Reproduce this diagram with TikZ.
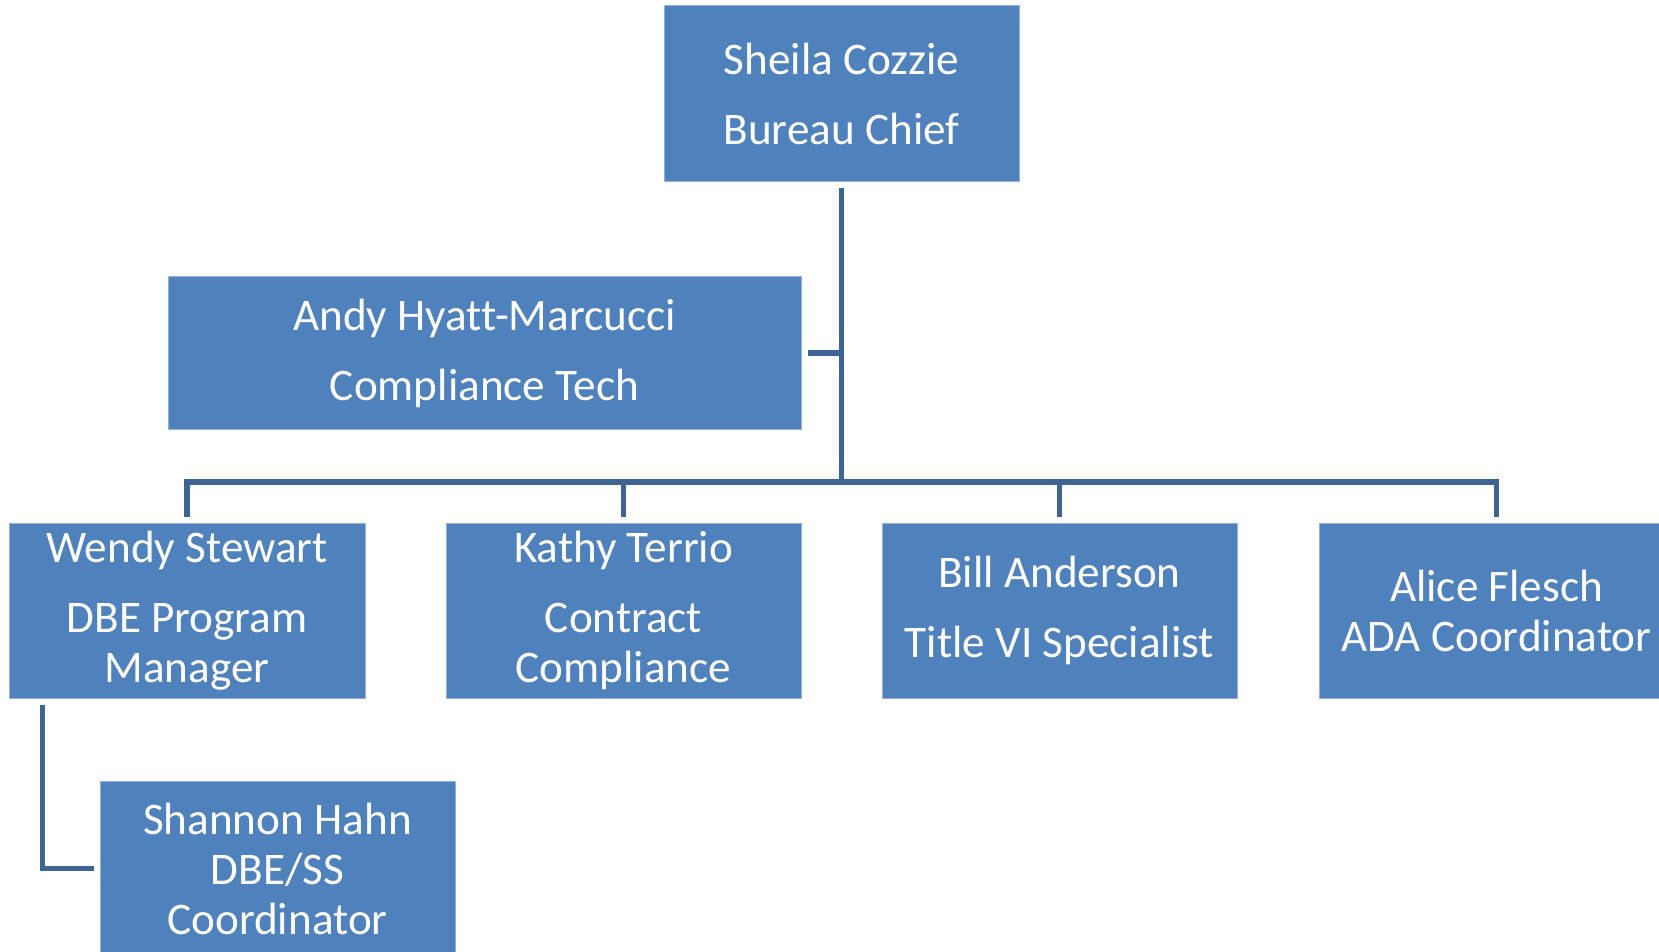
\documentclass[tikz,border=0pt]{standalone}
\usepackage{fontspec}
\setmainfont{Carlito}[Ligatures=CommonOff]
\definecolor{boxblue}{RGB}{79,129,189}
\definecolor{boxedge}{RGB}{149,179,215}
\definecolor{linkblue}{RGB}{62,100,148}
\tikzset{
  orgbox/.style={rectangle, fill=boxblue, draw=boxedge, line width=0.5pt,
    text=white, align=center, inner sep=0pt,
    font=\fontsize{22.6}{25}\selectfont},
  conn/.style={draw=linkblue, line width=2.8pt}
}
\begin{document}
\begin{tikzpicture}[x=0.5pt, y=-0.5pt]
\useasboundingbox[fill=white] (0,0) rectangle (1659,952);
\node[orgbox, minimum width=177.5pt, minimum height=88pt] (sheila) at (841.5,94) {Sheila Cozzie\\[10pt]Bureau Chief};
\node[orgbox, minimum width=316.5pt, minimum height=76pt] (andy) at (484.5,353) {Andy Hyatt-Marcucci\\[10pt]Compliance Tech};
\node[orgbox, minimum width=178pt, minimum height=87.5pt] (wendy) at (187,610.5) {Wendy Stewart\\[10pt]DBE Program\\Manager};
\node[orgbox, minimum width=177.5pt, minimum height=87.5pt] (kathy) at (623.5,610.5) {Kathy Terrio\\[10pt]Contract\\Compliance};
\node[orgbox, minimum width=177.5pt, minimum height=87.5pt] (bill) at (1059.5,610.5) {Bill Anderson\\[10pt]Title VI Specialist};
\node[orgbox, minimum width=177.5pt, minimum height=87.5pt] (alice) at (1496.5,610.5) {Alice Flesch\\ADA Coordinator};
\node[orgbox, minimum width=177.5pt, minimum height=87.5pt] (shannon) at (277.5,868.5) {Shannon Hahn\\DBE/SS\\Coordinator};
\coordinate (bar) at (841.5,482);
\draw[conn, shorten <=3pt] (sheila.south) -- (bar);
\draw[conn, shorten <=3pt] (andy.east) -- (andy.east -| bar);
\draw[conn, shorten >=3pt] (bar) -| (wendy.north);
\draw[conn, shorten >=3pt] (bar) -| (kathy.north);
\draw[conn, shorten >=3pt] (bar) -| (bill.north);
\draw[conn, shorten >=3pt] (bar) -| (alice.north);
\draw[conn, shorten <=3pt, shorten >=3pt] ([xshift=17pt]wendy.south west) |- (shannon.west);
\end{tikzpicture}
\end{document}
